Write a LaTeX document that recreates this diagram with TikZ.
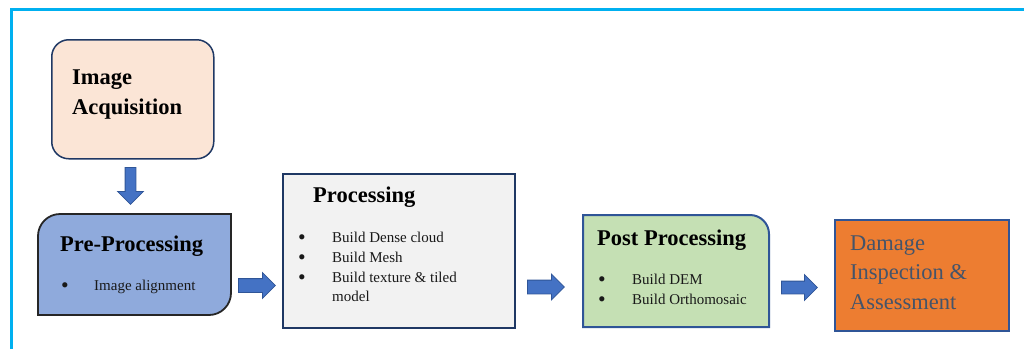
\documentclass[tikz,border=0pt]{standalone}
\usepackage{fontspec}
\setmainfont{Liberation Serif}
\usetikzlibrary{shapes.arrows}
\definecolor{frameblue}{HTML}{00B0F0}
\definecolor{peach}{HTML}{FBE5D6}
\definecolor{navy}{HTML}{1F3864}
\definecolor{prefill}{HTML}{8FAADC}
\definecolor{procfill}{HTML}{F2F2F2}
\definecolor{postfill}{HTML}{C5E0B4}
\definecolor{midblue}{HTML}{2F5597}
\definecolor{orangefill}{HTML}{ED7D31}
\definecolor{dmgtext}{HTML}{44546A}
\definecolor{arrowfill}{HTML}{4472C4}
\newcommand{\bigbul}{\smash{\raisebox{-2.3pt}{\scalebox{1.45}{\textbullet}}}}
\begin{document}
\begin{tikzpicture}[x=1pt,y=-1pt,
  boxnode/.style={rectangle, anchor=north west, inner sep=0pt},
  ttl/.style={font=\fontsize{22.5pt}{27pt}\selectfont\bfseries, anchor=base west, inner sep=0pt},
  itm/.style={font=\fontsize{15pt}{18pt}\selectfont, text=black!90, anchor=base west, inner sep=0pt},
  dmg/.style={font=\fontsize{22.5pt}{27pt}\selectfont, text=dmgtext, anchor=base west, inner sep=0pt},
  blockarrow/.style={single arrow, fill=arrowfill, draw=midblue, line width=0.8pt,
    inner sep=6.5pt, single arrow head extend=6pt, single arrow tip angle=90,
    minimum width=0pt, anchor=tail},
]
\useasboundingbox (0,0) rectangle (1024,349);
% frame
\draw[frameblue, line width=2.5pt] (11.5,349) -- (11.5,9.5) -- (1024,9.5);

% Image Acquisition
\node[boxnode, rounded corners=17pt, fill=peach, draw=navy, line width=1.5pt,
  minimum width=162pt, minimum height=119pt] (acq) at (51,39) {};
\node[ttl] (acq1) at (72,84) {Image};
\node[ttl] (acq2) at (72,114) {Acquisition};

% Pre-Processing
\node[boxnode, minimum width=193pt, minimum height=101pt] (pre) at (38,214) {};
\filldraw[fill=prefill, draw=black!85, line width=1.8pt]
  (38,315) -- (38,236) .. controls (38,223.9) and (47.9,214) .. (60,214)
  -- (231,214) -- (231,293) .. controls (231,305.1) and (221.1,315) .. (209,315) -- cycle;
\node[ttl] (pret) at (60,251) {Pre-Processing};
\node[itm] (pre1) at (61,290) {\makebox[33pt][l]{\bigbul}Image alignment};

% Processing
\node[boxnode, fill=procfill, draw=navy, line width=2pt,
  minimum width=232pt, minimum height=154pt] (proc) at (282,173) {};
\node[ttl] (proct) at (313,202) {Processing};
\node[itm] (proc1) at (298,242) {\makebox[34pt][l]{\bigbul}Build Dense cloud};
\node[itm] (proc2) at (298,262.5) {\makebox[34pt][l]{\bigbul}Build Mesh};
\node[itm] (proc3) at (298,282.5) {\makebox[34pt][l]{\bigbul}Build texture \& tiled};
\node[itm] (proc4) at (332,301) {model};

% Post Processing
\node[boxnode, minimum width=186pt, minimum height=112pt] (post) at (583,215) {};
\filldraw[fill=postfill, draw=midblue, line width=2pt]
  (583,215) -- (750,215) .. controls (760.5,215) and (769,223.5) .. (769,234)
  -- (769,327) -- (583,327) -- cycle;
\node[ttl] (postt) at (597,245) {Post Processing};
\node[itm] (post1) at (598,284) {\makebox[34pt][l]{\bigbul}Build DEM};
\node[itm] (post2) at (598,304) {\makebox[34pt][l]{\bigbul}Build Orthomosaic};

% Damage
\node[boxnode, fill=orangefill, draw=midblue, line width=2pt,
  minimum width=174pt, minimum height=111pt] (dam) at (834,219) {};
\node[dmg] (dam1) at (850,250) {Damage};
\node[dmg] (dam2) at (850,279.5) {Inspection \&};
\node[dmg] (dam3) at (850,309) {Assessment};

% block arrows
\node[blockarrow, shape border rotate=270, minimum height=37pt, inner sep=5pt,
  single arrow head extend=7.5pt] (a0) at (130.5,167) {};
\node[blockarrow, minimum height=37pt] (a1) at (238,285.5) {};
\node[blockarrow, minimum height=37pt] (a2) at (527,287) {};
\node[blockarrow, minimum height=36pt, inner sep=6pt, single arrow head extend=6.5pt] (a3) at (781,287.5) {};
\end{tikzpicture}
\end{document}
